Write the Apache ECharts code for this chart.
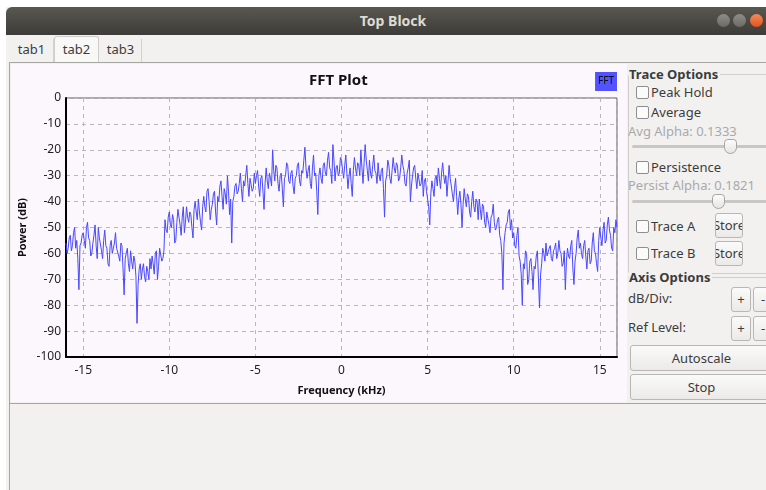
<!DOCTYPE html>
<html><head><meta charset="utf-8">
<script src="https://cdn.jsdelivr.net/npm/echarts@6/dist/echarts.min.js"></script>
<style>
html,body{margin:0;padding:0}
body{width:766px;height:490px;overflow:hidden;background:#fff;position:relative;font-family:"Noto Sans","Open Sans",sans-serif;font-size:13px;color:#3c3c3c}
.a{position:absolute;white-space:nowrap}
.cb{position:absolute;width:11px;height:11px;border:1px solid #8e8e8e;border-radius:2px;background:#fbfbfb}
.btn{position:absolute;border:1px solid #b9b7b2;border-radius:3px;background:linear-gradient(#fafafa,#ebeae8);text-align:center;overflow:hidden;box-sizing:border-box;color:#3c3c3c}
.grey{color:#a9a9a9}
.track{position:absolute;height:3px;background:#c9c7c3;border-radius:2px}
.handle{position:absolute;width:13px;height:15px;border:1px solid #a6a49f;border-radius:4px 4px 7px 7px;background:linear-gradient(#fcfcfc,#e6e5e3);box-sizing:border-box}
</style></head>
<body>
<div class="a" style="left:6px;top:7px;width:770px;height:490px;background:#f2f1f0"></div>
<div class="a" style="left:6px;top:7px;width:770px;height:28px;background:linear-gradient(#595751,#3d3c38);border-radius:6px 6px 0 0"></div>
<div class="a" style="left:343px;top:7px;width:100px;height:28px;line-height:28px;text-align:center;color:#dfdbd2;font-weight:bold;font-size:14px">Top Block</div>
<div class="a" style="left:717px;top:14px;width:13px;height:13px;border-radius:50%;background:linear-gradient(#8f8d88,#6c6a65)"></div>
<div class="a" style="left:733px;top:14px;width:13px;height:13px;border-radius:50%;background:linear-gradient(#8f8d88,#6c6a65)"></div>
<div class="a" style="left:750px;top:14px;width:13px;height:13px;border-radius:50%;background:linear-gradient(#f58a5c,#e0531f)"></div>
<!-- tabs -->
<div class="a" style="left:9px;top:35px;width:770px;height:28px;background:#f2f1f0"></div>
<div class="a" style="left:10px;top:39px;width:43px;height:23px;line-height:21px;text-align:center;border-right:1px solid #d3d1cd">tab1</div>
<div class="a" style="left:54px;top:36px;width:45px;height:27px;line-height:25px;text-align:center;background:#f8f8f7;border:1px solid #cfcdc8;border-bottom:none;border-radius:3px 3px 0 0;box-sizing:border-box">tab2</div>
<div class="a" style="left:100px;top:39px;width:41px;height:23px;line-height:21px;text-align:center;border-right:1px solid #d3d1cd">tab3</div>
<!-- frame -->
<div class="a" style="left:9px;top:62px;width:780px;height:342px;border:1px solid #a7a6a2;background:#f2f1f0;box-sizing:border-box"></div>
<div class="a" style="left:9px;top:404px;width:1px;height:90px;background:#a7a6a2"></div>
<div id="chart" class="a" style="left:11px;top:64px;width:616px;height:338px;background:#fcf7fc"></div>
<!-- right panel -->
<div class="a" style="left:628px;top:74px;width:160px;height:198px;border:1px solid #d1cfca;border-radius:3px"></div>
<div class="a" style="left:629px;top:64px;height:20px;line-height:20px;background:#f2f1f0;font-weight:bold;padding-right:2px">Trace Options</div>
<div class="cb" style="left:636px;top:86px"></div><div class="a" style="left:651px;top:82px;line-height:20px">Peak Hold</div>
<div class="cb" style="left:636px;top:106px"></div><div class="a" style="left:651px;top:102px;line-height:20px">Average</div>
<div class="a grey" style="left:628px;top:121px;line-height:20px">Avg Alpha: 0.1333</div>
<div class="track" style="left:632px;top:145px;width:140px"></div>
<div class="handle" style="left:724px;top:139px"></div>
<div class="cb" style="left:636px;top:161px"></div><div class="a" style="left:651px;top:157px;line-height:20px">Persistence</div>
<div class="a grey" style="left:628px;top:175px;line-height:20px">Persist Alpha: 0.1821</div>
<div class="track" style="left:632px;top:200px;width:140px"></div>
<div class="handle" style="left:712px;top:194px"></div>
<div class="cb" style="left:636px;top:220px"></div><div class="a" style="left:651px;top:216px;line-height:20px">Trace A</div>
<div class="btn" style="left:715px;top:213px;width:28px;height:25px;line-height:23px"><span style="margin-left:-10px;margin-right:-10px">Store</span></div>
<div class="cb" style="left:636px;top:247px"></div><div class="a" style="left:651px;top:243px;line-height:20px">Trace B</div>
<div class="btn" style="left:715px;top:241px;width:28px;height:25px;line-height:23px"><span style="margin-left:-10px;margin-right:-10px">Store</span></div>
<div class="a" style="left:628px;top:277px;width:160px;height:1px;background:#d1cfca"></div>
<div class="a" style="left:629px;top:267px;height:20px;line-height:20px;background:#f2f1f0;font-weight:bold;padding-right:2px">Axis Options</div>
<div class="a" style="left:628px;top:288px;line-height:20px">dB/Div:</div>
<div class="btn" style="left:731px;top:287px;width:20px;height:25px;line-height:23px">+</div>
<div class="btn" style="left:753px;top:287px;width:20px;height:25px;line-height:23px">-</div>
<div class="a" style="left:628px;top:317px;line-height:20px">Ref Level:</div>
<div class="btn" style="left:731px;top:316px;width:20px;height:25px;line-height:23px">+</div>
<div class="btn" style="left:753px;top:316px;width:20px;height:25px;line-height:23px">-</div>
<div class="btn" style="left:630px;top:345px;width:143px;height:26px;line-height:24px">Autoscale</div>
<div class="btn" style="left:630px;top:374px;width:143px;height:26px;line-height:24px">Stop</div>
<script>
// FFT bins: start frequency and bin width (kHz)
const freqStart = -16;
const freqStep = 0.0625;
// power values (dB), one per bin (16 bins per kHz)
const power = [
-56,-60,-58,-54,-53,-59,-57,-52,-50,-58,-55,-62,-74,-57,-56,-53,
-52,-55,-58,-50,-48,-54,-55,-61,-60,-56,-53,-49,-57,-62,-50,-54,
-54,-59,-62,-55,-51,-57,-58,-64,-65,-57,-55,-60,-60,-56,-52,-58,
-58,-61,-63,-56,-57,-66,-76,-62,-60,-58,-64,-67,-59,-63,-66,-61,
-63,-69,-87,-72,-66,-64,-70,-66,-64,-69,-71,-65,-67,-70,-62,-66,
-61,-64,-68,-60,-59,-70,-65,-58,-58,-63,-62,-59,-47,-51,-52,-46,
-44,-49,-50,-45,-47,-56,-55,-48,-43,-46,-49,-53,-46,-42,-52,-48,
-42,-46,-48,-44,-45,-50,-54,-43,-40,-44,-47,-39,-44,-48,-51,-42,
-38,-42,-44,-36,-35,-40,-47,-43,-41,-37,-36,-44,-49,-38,-40,-34,
-32,-38,-43,-35,-37,-41,-30,-36,-45,-39,-56,-40,-38,-34,-33,-37,
-36,-33,-29,-35,-40,-32,-34,-30,-26,-33,-38,-31,-31,-36,-35,-29,
-33,-30,-28,-34,-38,-31,-30,-36,-43,-33,-27,-32,-35,-29,-31,-34,
-20,-28,-32,-26,-27,-33,-36,-30,-29,-35,-42,-31,-30,-25,-26,-32,
-33,-29,-28,-34,-37,-31,-30,-26,-25,-32,-34,-28,-29,-24,-19,-27,
-31,-28,-26,-33,-35,-27,-22,-30,-29,-36,-45,-30,-27,-31,-33,-26,
-25,-29,-30,-24,-21,-27,-28,-33,-18,-24,-32,-27,-26,-30,-29,-23,
-24,-28,-31,-26,-22,-29,-35,-30,-27,-33,-38,-28,-23,-27,-30,-25,
-26,-30,-20,-27,-33,-25,-18,-24,-28,-32,-24,-29,-31,-26,-22,-28,
-29,-33,-25,-30,-32,-28,-27,-35,-46,-32,-30,-24,-26,-31,-33,-28,
-23,-27,-29,-25,-26,-32,-31,-27,-22,-26,-28,-33,-34,-29,-27,-24,
-40,-34,-30,-27,-26,-31,-35,-29,-29,-34,-33,-28,-38,-32,-31,-36,
-36,-42,-49,-37,-32,-35,-38,-31,-30,-34,-27,-31,-35,-29,-25,-30,
-33,-30,-38,-32,-26,-31,-34,-37,-40,-35,-31,-38,-45,-39,-36,-41,
-50,-41,-35,-39,-42,-37,-38,-44,-46,-40,-36,-42,-44,-39,-40,-47,
-39,-43,-47,-41,-42,-48,-50,-44,-44,-49,-52,-46,-45,-41,-48,-51,
-50,-47,-46,-53,-55,-60,-74,-56,-52,-49,-48,-44,-43,-51,-47,-54,
-52,-57,-58,-53,-50,-61,-63,-68,-80,-64,-66,-59,-60,-72,-70,-63,
-62,-67,-74,-65,-66,-61,-59,-70,-81,-68,-64,-58,-60,-63,-56,-61,
-61,-58,-57,-62,-63,-59,-58,-56,-62,-60,-55,-59,-60,-65,-64,-59,
-74,-63,-58,-61,-62,-57,-55,-66,-72,-63,-60,-54,-51,-58,-56,-60,
-62,-57,-55,-61,-66,-59,-58,-64,-63,-56,-52,-59,-60,-64,-67,-55,
-50,-54,-57,-51,-48,-56,-55,-49,-46,-51,-53,-58,-59,-50,-52,-47,
-50
];
const seriesName = 'FFT';
const titleText = 'FFT Plot';
const xName = 'Frequency (kHz)';
const yName = 'Power (dB)';
const xMin = -16, xMax = 16;
const yMin = -100, yMax = 0, yStep = 10;

const data = power.map((v, i) => [freqStart + i * freqStep, v]);
const font = '"Noto Sans","Open Sans",sans-serif';
const chart = echarts.init(document.getElementById('chart'), null, {renderer: 'canvas'});
chart.setOption({
  animation: false,
  backgroundColor: '#fcf7fc',
  title: {text: titleText, left: 298, top: 9, padding: 0,
    textStyle: {fontFamily: font, fontSize: 15, fontWeight: 'bold', color: '#111'}},
  legend: {data: [seriesName], right: 10, top: 8, padding: 0, icon: 'none', itemWidth: 0, itemGap: 0,
    textStyle: {fontFamily: font, fontSize: 10, color: '#111', backgroundColor: '#5252ff', padding: [5, 3, 4, 3]}},
  grid: {left: 55, right: 10, top: 34, bottom: 45, outerBoundsMode: 'none', containLabel: false,
    show: true, borderColor: '#5a5a5a', borderWidth: 1, backgroundColor: 'transparent'},
  xAxis: {type: 'value', min: xMin, max: xMax, splitNumber: 6,
    name: xName, nameLocation: 'middle', nameGap: 28, nameMoveOverlap: false,
    nameTextStyle: {fontFamily: font, fontSize: 11, fontWeight: 'bold', color: '#111'},
    axisLine: {onZero: false, lineStyle: {color: '#000', width: 2}},
    axisTick: {show: false},
    axisLabel: {showMinLabel: false, showMaxLabel: false, margin: 8, fontFamily: font, fontSize: 12, color: '#222'},
    splitLine: {show: true, lineStyle: {color: '#b8b8b8', type: [4, 4], width: 1}}},
  yAxis: {type: 'value', min: yMin, max: yMax, interval: yStep,
    name: yName, nameLocation: 'middle', nameGap: 38, nameRotate: 90, nameMoveOverlap: false,
    nameTextStyle: {fontFamily: font, fontSize: 11, fontWeight: 'bold', color: '#111'},
    axisLine: {show: true, onZero: false, lineStyle: {color: '#000', width: 2}},
    axisTick: {show: false},
    axisLabel: {margin: 5, fontFamily: font, fontSize: 12, color: '#222'},
    splitLine: {show: true, lineStyle: {color: '#b8b8b8', type: [4, 4], width: 1}}},
  series: [{name: seriesName, type: 'line', data: data, showSymbol: false, symbol: 'none',
    lineStyle: {color: '#4848ff', width: 1}, itemStyle: {color: '#5252ff'}}]
});
</script>
</body></html>
